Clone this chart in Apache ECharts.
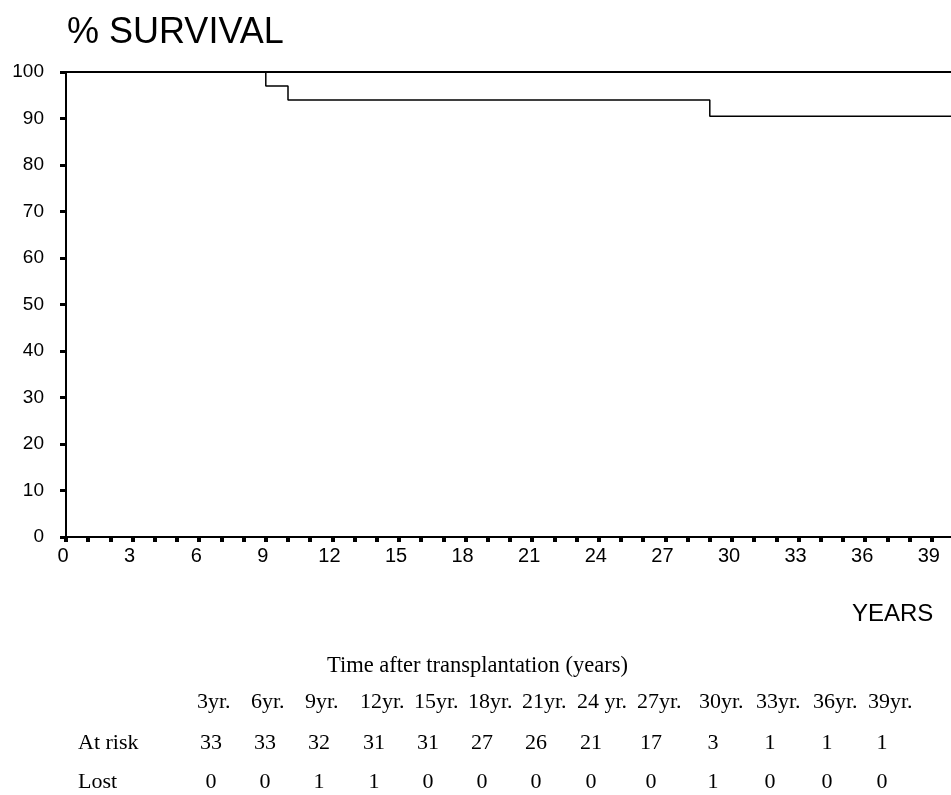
<!DOCTYPE html>
<html>
<head>
<meta charset="utf-8">
<script src="https://cdn.jsdelivr.net/npm/echarts@6.0.0/dist/echarts.min.js"></script>
<style>
html,body{margin:0;padding:0;background:#fff;}
#chart{width:951px;height:795px;}
</style>
</head>
<body>
<div id="chart"></div>
<script>
// ---- data ----
const survivalTimes = [0, 9, 10, 29, 40];
const survivalValues = [100, 97.0, 94.0, 90.5, 90.5];
const referenceTimes = [0, 40];
const referenceValues = [100, 100];
const tableHeaders = ['3yr.', '6yr.', '9yr.', '12yr.', '15yr.', '18yr.', '21yr.', '24 yr.', '27yr.', '30yr.', '33yr.', '36yr.', '39yr.'];
const atRisk = [33, 33, 32, 31, 31, 27, 26, 21, 17, 3, 1, 1, 1];
const lost = [0, 0, 1, 1, 0, 0, 0, 0, 0, 1, 0, 0, 0];
const rowLabels = ['At risk', 'Lost'];
const tableTitle = 'Time after transplantation (years)';
const chartTitle = '% SURVIVAL';
const xAxisName = 'YEARS';

// ---- layout (pixel positions of the table columns, not data) ----
const headerLeft = [197, 251, 305, 360, 414, 468, 522, 577, 637, 699, 756, 813, 868];

// ---- chart ----
const chart = echarts.init(document.getElementById('chart'), null, {renderer: 'canvas'});
const sans = '"Liberation Sans", Arial, sans-serif';
const serif = '"Liberation Serif", "Times New Roman", serif';
const tFont = '22px ' + serif;

const graphics = [];
graphics.push({type: 'text', x: 852, y: 614, style: {text: xAxisName, font: '24px ' + sans, fill: '#000', verticalAlign: 'middle'}});
graphics.push({type: 'text', x: 327, y: 666, style: {text: tableTitle, font: '22.5px ' + serif, fill: '#000', verticalAlign: 'middle'}});
tableHeaders.forEach((h, i) => {
  graphics.push({type: 'text', x: headerLeft[i], y: 702, style: {text: h, font: tFont, fill: '#000', align: 'left', verticalAlign: 'middle'}});
});
[atRisk, lost].forEach((row, r) => {
  const y = r === 0 ? 743 : 782;
  graphics.push({type: 'text', x: 78, y: y, style: {text: rowLabels[r], font: tFont, fill: '#000', verticalAlign: 'middle'}});
  row.forEach((v, i) => {
    graphics.push({type: 'text', x: headerLeft[i] + 14, y: y, style: {text: String(v), font: tFont, fill: '#000', align: 'center', verticalAlign: 'middle'}});
  });
});

const option = {
  backgroundColor: '#fff',
  animation: false,
  title: {
    text: chartTitle, left: 62, top: 10,
    textStyle: {fontSize: 36, fontWeight: 'normal', fontFamily: sans, color: '#000'}
  },
  grid: {left: 66, right: -3, top: 72, bottom: 258, containLabel: false, outerBoundsMode: 'none'},
  xAxis: {
    type: 'value', min: 0, max: 40, interval: 1,
    axisLine: {show: true, onZero: false, lineStyle: {color: '#000', width: 2}},
    axisTick: {show: true, length: 5, inside: false, lineStyle: {color: '#000', width: 4}},
    axisLabel: {
      fontSize: 20, color: '#000', fontFamily: sans, margin: 9, padding: [0, 6, 0, 0],
      formatter: v => (v % 3 === 0 && v < 40) ? String(v) : ''
    },
    splitLine: {show: false}
  },
  yAxis: {
    type: 'value', min: 0, max: 100, interval: 10,
    axisLine: {show: true, lineStyle: {color: '#000', width: 2}},
    axisTick: {show: true, length: 6, lineStyle: {color: '#000', width: 3}},
    axisLabel: {fontSize: 19, color: '#000', fontFamily: sans, margin: 22},
    splitLine: {show: false}
  },
  series: [
    {
      type: 'line', step: 'end', symbol: 'none',
      data: referenceTimes.map((t, i) => [t, referenceValues[i]]),
      lineStyle: {color: '#000', width: 2}, clip: false
    },
    {
      type: 'line', step: 'end', symbol: 'none',
      data: survivalTimes.map((t, i) => [t, survivalValues[i]]),
      lineStyle: {color: '#000', width: 1.5}, clip: false
    }
  ],
  graphic: graphics
};
chart.setOption(option);
</script>
</body>
</html>
